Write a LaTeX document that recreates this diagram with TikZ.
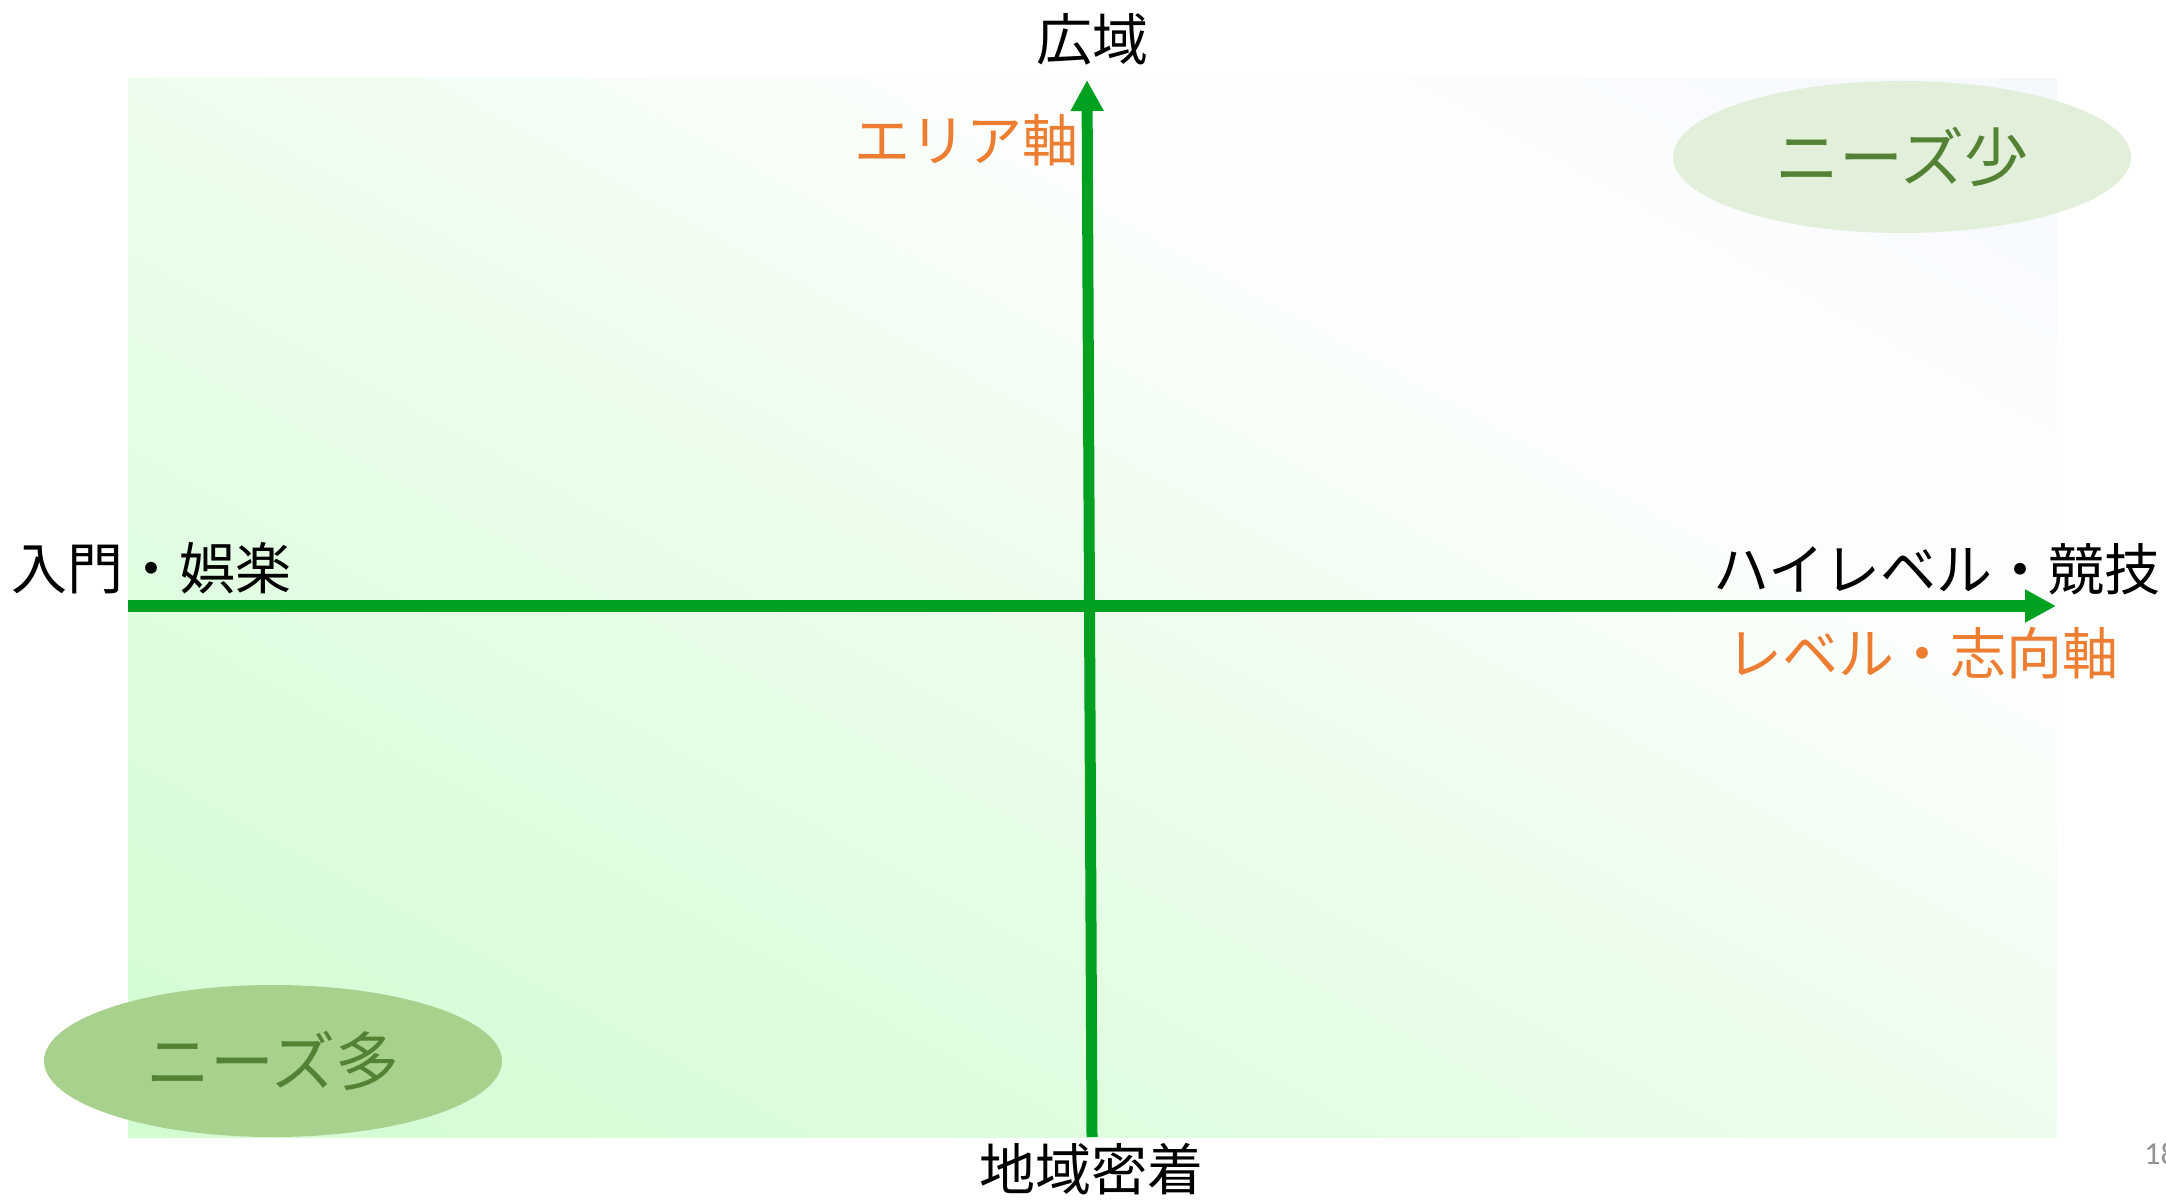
\documentclass[tikz,border=0pt]{standalone}
\usepackage{fontspec}
\newfontfamily\jp{Noto Sans CJK JP}
\newfontfamily\lat{Carlito}
\usetikzlibrary{arrows.meta,shapes.geometric}
\definecolor{axisgreen}{RGB}{0,160,32}
\definecolor{axisorange}{RGB}{237,125,49}
\definecolor{needtext}{RGB}{84,130,53}
\definecolor{needlight}{RGB}{226,239,218}
\definecolor{needdark}{RGB}{169,209,142}
\definecolor{bgA}{RGB}{210,252,210}
\definecolor{bgB}{RGB}{237,253,237}
\definecolor{bgW}{RGB}{251,254,251}
\definecolor{bgV}{RGB}{252,253,254}
\definecolor{bgC}{RGB}{245,249,253}
\pgfdeclarehorizontalshading{bgshade}{100bp}{color(0bp)=(bgA); color(14.6bp)=(bgA); color(50bp)=(bgB); color(64bp)=(bgW); color(72bp)=(bgV); color(85.4bp)=(bgC); color(100bp)=(bgC)}
\tikzset{
  axisline/.style={line width=5.5pt, draw=axisgreen, -{Triangle[length=15.5pt,width=15.5pt]}},
  endlabel/.style={font=\jp\fontsize{28pt}{30pt}\selectfont, text=black, inner sep=0pt},
  axislabel/.style={font=\jp\fontsize{28pt}{30pt}\selectfont, text=axisorange, inner sep=0pt},
  needs/.style={ellipse, draw=none, minimum width=229pt, minimum height=76pt, inner sep=0pt,
    font=\jp\fontsize{32pt}{34pt}\selectfont, text=needtext},
}
\begin{document}
\begin{tikzpicture}[x=0.5pt,y=-0.5pt]
\useasboundingbox (0,0) rectangle (2166,1202);
\clip (0,0) rectangle (2166,1202);
% background: 45 degree gradient on a square, stretched to the panel
\begin{scope}
\clip (128,79) rectangle (2057,1137);
\begin{scope}[transform canvas={shift={(1092.5,608)}, xscale=1.929, yscale=1.058}]
\shade[shading=bgshade, shading angle=45] (-500,-500) rectangle (500,500);
\end{scope}
\end{scope}
% axes
\coordinate (hstart) at (128,606);
\coordinate (hend) at (2056,606);
\coordinate (vstart) at (1092,1137);
\coordinate (vend) at (1087,80);
\draw[axisline] (hstart) -- (hend);
\draw[axisline] (vstart) -- (vend);
% labels
\node[endlabel] (top) at (1092,39) {広域};
\node[endlabel] (bottom) at (1091,1169) {地域密着};
\node[endlabel] (left) at (151,568) {入門・娯楽};
\node[endlabel] (right) at (1937,569) {ハイレベル・競技};
\node[axislabel] (area) at (966,140) {エリア軸};
\node[axislabel] (level) at (1922,653) {レベル・志向軸};
% needs ellipses
\node[needs, fill=needlight] (few) at (1902,157) {ニーズ少};
\node[needs, fill=needdark] (many) at (273,1061) {ニーズ多};
% page number
\node[anchor=west, inner sep=0pt, text=gray!85, font=\lat\fontsize{16pt}{18pt}\selectfont] (page) at (2144,1154) {18};
\end{tikzpicture}
\end{document}
